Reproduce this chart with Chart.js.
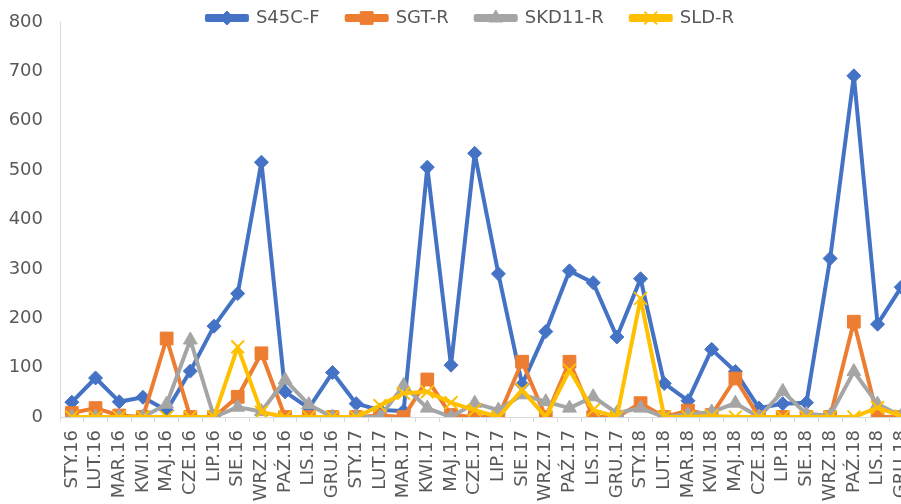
<!DOCTYPE html>
<html>
<head>
<meta charset="utf-8">
<script src="https://cdn.jsdelivr.net/npm/chart.js"></script>
<style>
  html, body { margin: 0; padding: 0; overflow: hidden; background: #fff; }
  #wrap { width: 901px; height: 504px; overflow: hidden; }
</style>
</head>
<body>
<!-- canvas is wider than the window: the plot runs past the right edge, as in the source -->
<div id="wrap"><canvas id="chart" width="931" height="504"></canvas></div>
<script>
// months (Polish abbreviations), Jan 2016 .. Dec 2018
const months = [
  'STY.16', 'LUT.16', 'MAR.16', 'KWI.16', 'MAJ.16', 'CZE.16', 'LIP.16', 'SIE.16', 'WRZ.16', 'PAŹ.16', 'LIS.16', 'GRU.16',
  'STY.17', 'LUT.17', 'MAR.17', 'KWI.17', 'MAJ.17', 'CZE.17', 'LIP.17', 'SIE.17', 'WRZ.17', 'PAŹ.17', 'LIS.17', 'GRU.17',
  'STY.18', 'LUT.18', 'MAR.18', 'KWI.18', 'MAJ.18', 'CZE.18', 'LIP.18', 'SIE.18', 'WRZ.18', 'PAŹ.18', 'LIS.18', 'GRU.18'
];

const s45cF = [30, 79, 31, 40, 13, 93, 184, 250, 516, 51, 18, 90,
  27, 14, 12, 506, 105, 534, 290, 66, 173, 296, 272, 162,
  280, 68, 33, 137, 92, 18, 27, 29, 321, 691, 188, 263];
const sgtR = [8, 18, 3, 0, 159, 0, 0, 41, 129, 0, 0, 0,
  0, 3, 0, 76, 4, 0, 0, 112, 0, 112, 0, 0,
  28, 0, 13, 4, 78, 0, 0, 0, 0, 193, 0, 0];
const skd11R = [0, 0, 0, 0, 26, 156, 0, 20, 11, 75, 25, 0,
  0, 0, 64, 18, 0, 28, 14, 45, 31, 18, 41, 8,
  18, 0, 5, 10, 28, 0, 52, 6, 3, 92, 26, 2];
const sldR = [0, 0, 0, 0, 0, 0, 0, 142, 10, 0, 0, 0,
  0, 23, 48, 51, 29, 14, 0, 55, 0, 95, 14, 0,
  240, 0, 0, 2, 0, 0, 0, 0, 0, 0, 19, 2];

const yTicks = [0, 100, 200, 300, 400, 500, 600, 700, 800];

const textColor = '#595959';
const axisColor = '#D9D9D9';
const legendPad = 27;
const legendTextY = 18;

Chart.defaults.font.family = '"DejaVu Sans", sans-serif';
Chart.defaults.font.size = 18;
Chart.defaults.color = textColor;

function series(label, data, color, pointStyle, radius, order) {
  return {
    label: label,
    data: data,
    borderColor: color,
    backgroundColor: color,
    borderWidth: 4,
    borderJoinStyle: 'round',
    borderCapStyle: 'round',
    pointStyle: pointStyle,
    pointRadius: radius,
    pointHoverRadius: radius,
    pointBorderWidth: pointStyle === 'crossRot' ? 2 : 1,
    tension: 0,
    fill: false,
    order: order
  };
}

// legend overlaps the plot top like in Excel, and gets line + marker swatches
const legendTweaks = {
  id: 'legendTweaks',
  afterLayout(chart) {
    const lg = chart.legend;
    lg.top = legendTextY - legendPad - 9;
    lg.bottom = lg.top + 70;
  },
  afterDraw(chart) {
    const lg = chart.legend;
    const ctx = chart.ctx;
    const cy = lg.top + legendPad + 9;
    lg.legendHitBoxes.forEach((box, i) => {
      const ds = chart.data.datasets[lg.legendItems[i].datasetIndex];
      ctx.save();
      ctx.fillStyle = ds.backgroundColor;
      ctx.strokeStyle = ds.borderColor;
      ctx.lineWidth = ds.pointBorderWidth;
      Chart.helpers.drawPoint(ctx, {
        pointStyle: ds.pointStyle,
        radius: ds.pointRadius,
        borderWidth: ds.pointBorderWidth,
        rotation: 0
      }, box.left + 20, cy);
      ctx.restore();
    });
  }
};

new Chart(document.getElementById('chart'), {
  type: 'line',
  data: {
    labels: months,
    datasets: [
      series('S45C-F', s45cF, '#4472C4', 'rectRot', 7, 4),
      series('SGT-R', sgtR, '#ED7D31', 'rect', 9, 3),
      series('SKD11-R', skd11R, '#A5A5A5', 'triangle', 8, 2),
      series('SLD-R', sldR, '#FFC000', 'crossRot', 9, 1)
    ]
  },
  options: {
    responsive: false,
    animation: false,
    devicePixelRatio: 1,
    layout: { padding: { left: 0, right: -10, top: 0, bottom: 0 } },
    plugins: {
      legend: {
        position: 'top',
        maxHeight: 22,
        labels: {
          boxWidth: 40,
          boxHeight: 4,
          padding: legendPad,
          color: textColor,
          font: { size: 18 },
          sort: (a, b) => a.datasetIndex - b.datasetIndex
        }
      },
      tooltip: { enabled: false }
    },
    scales: {
      x: {
        offset: true,
        afterFit: (scale) => { scale.height = 87; },
        grid: { drawOnChartArea: false, drawTicks: true, tickLength: 5, color: axisColor, offset: true },
        border: { display: true, color: axisColor },
        ticks: { autoSkip: false, maxRotation: 90, minRotation: 90, padding: 8, color: textColor, font: { size: 18 } }
      },
      y: {
        min: 0,
        max: 800,
        afterBuildTicks: (scale) => { scale.ticks = yTicks.map(v => ({ value: v })); },
        afterFit: (scale) => { scale.width = 60; },
        grid: { display: true, drawOnChartArea: false, tickLength: 14, tickColor: 'rgba(0,0,0,0)' },
        border: { display: true, color: axisColor },
        ticks: { padding: 3, color: textColor, font: { size: 18 } }
      }
    }
  },
  plugins: [legendTweaks]
});
</script>
</body>
</html>
